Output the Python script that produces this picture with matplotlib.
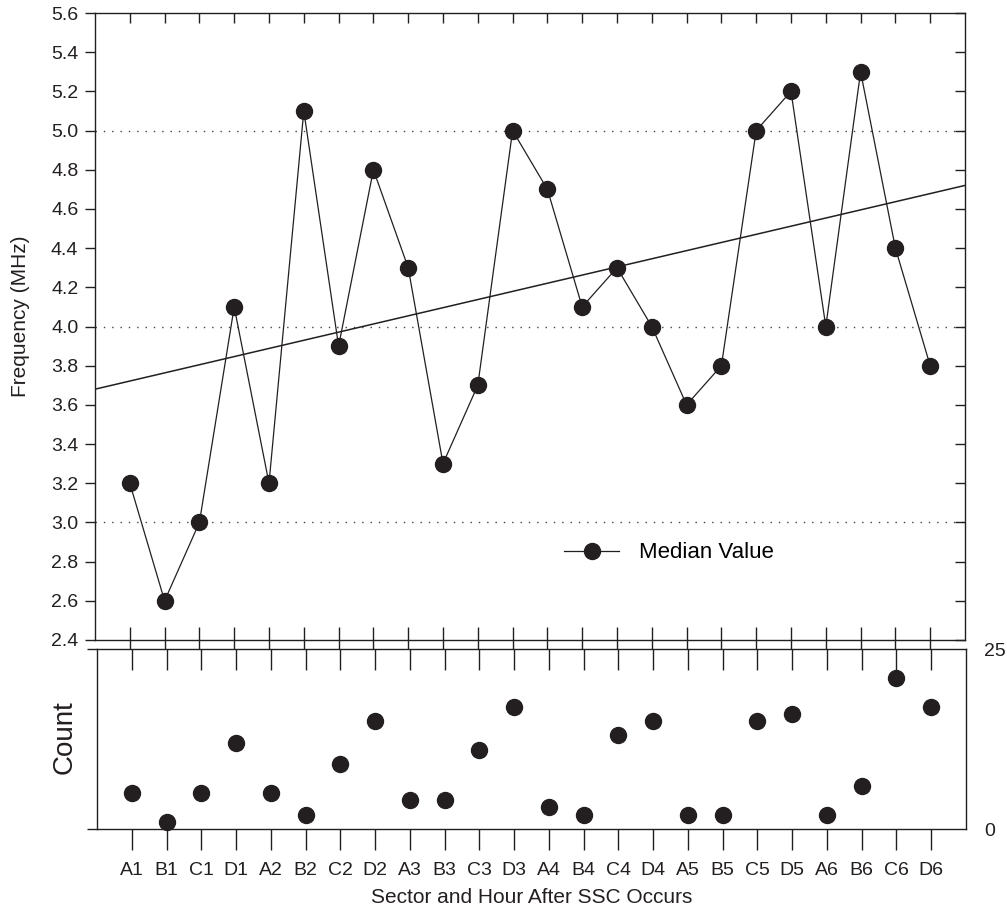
import matplotlib
matplotlib.use("Agg")
import matplotlib.pyplot as plt
from matplotlib import lines as mlines

plt.rcParams['font.family'] = ['Liberation Sans', 'DejaVu Sans']

# sector/hour categories
labels = ['A1', 'B1', 'C1', 'D1', 'A2', 'B2', 'C2', 'D2', 'A3', 'B3', 'C3', 'D3',
          'A4', 'B4', 'C4', 'D4', 'A5', 'B5', 'C5', 'D5', 'A6', 'B6', 'C6', 'D6']
median_freq = [3.2, 2.6, 3.0, 4.1, 3.2, 5.1, 3.9, 4.8, 4.3, 3.3, 3.7, 5.0,
               4.7, 4.1, 4.3, 4.0, 3.6, 3.8, 5.0, 5.2, 4.0, 5.3, 4.4, 3.8]
counts = [5, 1, 5, 12, 5, 2, 9, 15, 4, 4, 11, 17,
          3, 2, 13, 15, 2, 2, 15, 16, 2, 6, 21, 17]
# trend line end values (at x = 0 and x = 25)
trend_x = [0, 25]
trend_y = [3.68, 4.72]
grid_levels = [3.0, 4.0, 5.0]
freq_ticks = [2.4, 2.6, 2.8, 3.0, 3.2, 3.4, 3.6, 3.8, 4.0, 4.2,
              4.4, 4.6, 4.8, 5.0, 5.2, 5.4, 5.6]

ink = '#231f20'
x = list(range(1, len(labels) + 1))

fig = plt.figure(figsize=(10.07, 9.13), dpi=100)
ax = fig.add_axes([95 / 1007, 1 - 640 / 913, 870 / 1007, 627 / 913])
ax2 = fig.add_axes([97 / 1007, 1 - 829 / 913, 869 / 1007, 180 / 913])

# top panel: median frequency
for g in grid_levels:
    ax.axhline(g, color='#444444', lw=1.0, ls=(0, (1, 5)), zorder=1)
ax.plot(trend_x, trend_y, color=ink, lw=1.1, zorder=2)
ax.plot(x, median_freq, color=ink, lw=0.9, marker='o', ms=11.5,
        mfc=ink, mec=ink, label='Median Value', zorder=3)

ax.set_xlim(0, 25)
ax.set_ylim(2.4, 5.6)
ax.set_yticks(freq_ticks)
ax.set_yticklabels([f'{v:.1f}' for v in freq_ticks])
ax.set_xticks(x)
ax.set_xticklabels([])
ax.tick_params(axis='y', left=True, right=True, direction='out',
               length=7, width=1, color=ink, labelsize=14, pad=5, labelcolor=ink)
# right ticks point inward
for t in ax.yaxis.get_major_ticks():
    t.tick2line.set_marker(mlines.TICKLEFT)
ax.tick_params(axis='x', top=True, bottom=True, direction='inout', length=19,
               width=1, color=ink)
# top ticks point inward, shorter
for t in ax.xaxis.get_major_ticks():
    t.tick2line.set_markersize(7)
    t.tick2line.set_marker(mlines.TICKDOWN)
ax.set_ylabel('Frequency (MHz)', fontsize=15, color=ink)
ax.yaxis.set_label_coords(-0.075, 0.517)
for s in ax.spines.values():
    s.set_color(ink)
    s.set_linewidth(1.0)

ax.legend(loc='center left', bbox_to_anchor=(0.539, 0.139), frameon=False,
          fontsize=16, handlelength=2.5, handletextpad=0.9, borderpad=0,
          borderaxespad=0)

# bottom panel: counts
ax2.plot(x, counts, ls='none', marker='o', ms=11.5, mfc=ink, mec=ink,
         clip_on=False)
ax2.set_xlim(0, 25)
ax2.set_ylim(0, 25)
ax2.set_xticks(x)
ax2.set_xticklabels(labels, fontsize=14, color=ink)
ax2.tick_params(axis='x', bottom=True, top=True, direction='out', length=15,
                width=1, color=ink, pad=9)
for t in ax2.xaxis.get_major_ticks():
    t.tick2line.set_marker(mlines.TICKDOWN)
ax2.set_yticks([0, 25])
ax2.tick_params(axis='y', left=True, right=False, labelleft=False,
                labelright=True, direction='out', length=7, width=1,
                color=ink, labelsize=14, pad=6, labelcolor=ink)
ax2.set_xlabel('Sector and Hour After SSC Occurs', fontsize=15, color=ink,
               labelpad=6)
ax2.set_ylabel('Count', fontsize=20, color=ink)
ax2.yaxis.set_label_coords(-0.022, 0.51)
for s in ax2.spines.values():
    s.set_color(ink)
    s.set_linewidth(1.0)

fig.savefig('out.png', dpi=100)
